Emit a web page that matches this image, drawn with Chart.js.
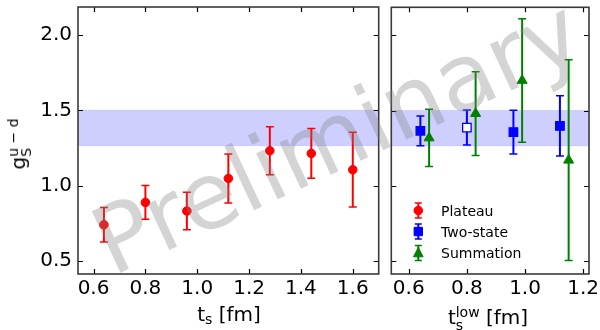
<!DOCTYPE html>
<html>
<head>
<meta charset="utf-8">
<script src="https://cdn.jsdelivr.net/npm/chart.js@4.4.1/dist/chart.umd.min.js"></script>
<style>
html,body{margin:0;padding:0;background:#fff;}
#wrap{position:relative;width:600px;height:330px;overflow:hidden;font-family:"DejaVu Sans",sans-serif;color:#000;}
canvas{position:absolute;top:0;}
#c1{left:0;}
#c2{left:384px;}
.lbl{position:absolute;font-size:20px;line-height:20px;white-space:nowrap;}
.st{position:relative;display:inline-block;font-size:14px;line-height:14px;}
.st .sp{position:relative;top:-7px;}
.st .sb{position:absolute;left:0;top:6px;}
.st .sb1{position:relative;top:3px;}
.leg{position:absolute;left:441px;font-size:14px;line-height:14px;white-space:nowrap;}
#wm{position:absolute;font-size:93px;line-height:93px;white-space:nowrap;color:rgba(128,128,128,0.34);
  left:337px;top:137px;transform:translate(-50%,-50%) rotate(-25deg);pointer-events:none;}
</style>
</head>
<body>
<div id="wrap">
  <canvas id="c1" width="384" height="330"></canvas>
  <canvas id="c2" width="216" height="330"></canvas>
  <div class="lbl" id="xl1" style="left:229px;top:304px;transform:translateX(-50%);">t<span class="st"><span class="sb1">s</span></span> [fm]</div>
  <div class="lbl" id="xl2" style="left:488px;top:307px;transform:translateX(-50%);">t<span class="st"><span class="sp">low</span><span class="sb">s</span></span> [fm]</div>
  <div class="lbl" id="yl" style="left:18px;top:144px;transform:translate(-50%,-50%) rotate(-90deg);">g<span class="st"><span class="sp">u − d</span><span class="sb">S</span></span></div>
  <div class="leg" style="top:204px;">Plateau</div>
  <div class="leg" style="top:225px;">Two-state</div>
  <div class="leg" style="top:246px;">Summation</div>
  <div id="wm">Preliminary</div>
</div>
<script>
// ---------------- data ----------------
const plateauT   = [0.64, 0.80, 0.96, 1.12, 1.28, 1.44, 1.60];
const plateauVal = [0.741, 0.889, 0.832, 1.048, 1.232, 1.214, 1.106];
const plateauErr = [0.114, 0.112, 0.124, 0.163, 0.160, 0.165, 0.248];

const twoStateT   = [0.64, 0.80, 0.96, 1.12];
const twoStateVal = [1.365, 1.387, 1.357, 1.398];
const twoStateErr = [0.099, 0.116, 0.145, 0.200];
const twoStateOpen = [false, true, false, false];

const summationT   = [0.67, 0.83, 0.99, 1.15];
const summationVal = [1.318, 1.480, 1.700, 1.170];
const summationErr = [0.190, 0.278, 0.410, 0.667];

const bandLow = 1.266, bandHigh = 1.500;

const yTicks = [0.5, 1.0, 1.5, 2.0];
const leftXTicks = [0.6, 0.8, 1.0, 1.2, 1.4, 1.6];
const rightXTicks = [0.6, 0.8, 1.0, 1.2];
const legendLabels = ['Plateau', 'Two-state', 'Summation'];

const RED = '#ff0000', BLUE = '#0000ff', GREEN = '#008000';
const FONT = {family: '"DejaVu Sans", sans-serif', size: 20};

function pts(xs, ys) { return xs.map((x, i) => ({x: x, y: ys[i]})); }

function drawMarker(ctx, style, x, y, color, fill) {
  ctx.save();
  ctx.fillStyle = fill; ctx.strokeStyle = color; ctx.lineWidth = 1;
  ctx.beginPath();
  if (style === 'circle') ctx.arc(x, y, 4.3, 0, Math.PI * 2);
  else if (style === 'rect') ctx.rect(x - 4.2, y - 4.2, 8.4, 8.4);
  else { ctx.moveTo(x, y - 5.5); ctx.lineTo(x - 4.8, y + 3.8); ctx.lineTo(x + 4.8, y + 3.8); ctx.closePath(); }
  ctx.fill(); ctx.stroke();
  ctx.restore();
}

function vbar(ctx, x, y1, y2, color, cap) {
  ctx.strokeStyle = color; ctx.lineWidth = 2;
  ctx.beginPath(); ctx.moveTo(x, y1); ctx.lineTo(x, y2); ctx.stroke();
  ctx.lineWidth = 1.5;
  ctx.beginPath();
  ctx.moveTo(x - cap, y1); ctx.lineTo(x + cap, y1);
  ctx.moveTo(x - cap, y2); ctx.lineTo(x + cap, y2);
  ctx.stroke();
}

const decor = {
  id: 'decor',
  beforeDatasetsDraw(chart) {
    const ctx = chart.ctx, a = chart.chartArea, xs = chart.scales.x, ys = chart.scales.y;
    ctx.save();
    // band
    const yt = ys.getPixelForValue(bandHigh), yb = ys.getPixelForValue(bandLow);
    ctx.fillStyle = 'rgba(0,0,255,0.19)';
    ctx.fillRect(a.left, yt, a.right - a.left, yb - yt);
    ctx.strokeStyle = 'rgba(0,0,255,0.12)'; ctx.lineWidth = 1;
    ctx.beginPath(); ctx.moveTo(a.left, yt); ctx.lineTo(a.right, yt);
    ctx.moveTo(a.left, yb); ctx.lineTo(a.right, yb); ctx.stroke();
    // error bars
    chart.data.datasets.forEach(ds => {
      ds.data.forEach((p, i) => {
        const px = xs.getPixelForValue(p.x);
        vbar(ctx, px, ys.getPixelForValue(p.y + ds.err[i]), ys.getPixelForValue(p.y - ds.err[i]), ds.borderColor, 4);
      });
    });
    ctx.restore();
  },
  afterDraw(chart) {
    const ctx = chart.ctx, a = chart.chartArea, xs = chart.scales.x, ys = chart.scales.y;
    const o = chart.options.plugins.decor;
    ctx.save();
    ctx.strokeStyle = '#000'; ctx.lineWidth = 1.2;
    const L = 5;
    ctx.beginPath();
    o.xticks.forEach(v => {
      const px = Math.round(xs.getPixelForValue(v)) + 0.5;
      ctx.moveTo(px, a.bottom); ctx.lineTo(px, a.bottom - L);
      ctx.moveTo(px, a.top); ctx.lineTo(px, a.top + L);
    });
    yTicks.forEach(v => {
      const py = Math.round(ys.getPixelForValue(v)) + 0.5;
      ctx.moveTo(a.left, py); ctx.lineTo(a.left + L, py);
      ctx.moveTo(a.right, py); ctx.lineTo(a.right - L, py);
    });
    ctx.stroke();
    ctx.strokeStyle = '#3a3a3a'; ctx.lineWidth = 1.6;
    ctx.strokeRect(a.left, a.top, a.right - a.left, a.bottom - a.top);
    if (o.legend) {
      const lx = a.left + 27, rows = [210.5, 231.5, 253];
      const sty = [['circle', RED, RED], ['rect', BLUE, BLUE], ['triangle', GREEN, GREEN]];
      rows.forEach((ry, i) => {
        vbar(ctx, lx, ry - 7.5, ry + 7.5, sty[i][1], 3.5);
        drawMarker(ctx, sty[i][0], lx, ry, sty[i][1], sty[i][2]);
      });
    }
    ctx.restore();
  }
};

function yScale(showLabels, width) {
  return {
    type: 'linear', min: 0.414, max: 2.186,
    afterBuildTicks: s => { s.ticks = yTicks.map(v => ({value: v})); },
    afterFit: s => { s.width = width; s.paddingTop = 0; s.paddingBottom = 0; },
    grid: {display: false, drawTicks: false},
    border: {display: false},
    ticks: {display: showLabels, padding: 6, color: '#000', font: FONT, callback: v => v.toFixed(1)}
  };
}
function xScale(min, max, tickArr) {
  return {
    type: 'linear', min: min, max: max,
    afterBuildTicks: s => { s.ticks = tickArr.map(v => ({value: v})); },
    afterFit: s => { s.height = 56; s.paddingLeft = 0; s.paddingRight = 0; },
    grid: {display: false, drawTicks: false},
    border: {display: false},
    ticks: {padding: 3, color: '#000', font: FONT, autoSkip: false, maxRotation: 0, callback: v => v.toFixed(1)}
  };
}

new Chart(document.getElementById('c1'), {
  type: 'scatter',
  data: {datasets: [{
    label: legendLabels[0], data: pts(plateauT, plateauVal), err: plateauErr,
    pointStyle: 'circle', pointRadius: 4.3, borderWidth: 1,
    backgroundColor: RED, borderColor: RED
  }]},
  options: {
    responsive: false, animation: false,
    layout: {padding: {top: 7, right: 3, left: 0, bottom: 0}},
    scales: {x: xScale(0.54, 1.70, leftXTicks), y: yScale(true, 78)},
    plugins: {legend: {display: false}, tooltip: {enabled: false}, decor: {xticks: leftXTicks, legend: false}}
  },
  plugins: [decor]
});

new Chart(document.getElementById('c2'), {
  type: 'scatter',
  data: {datasets: [{
    label: legendLabels[1], data: pts(twoStateT, twoStateVal), err: twoStateErr,
    pointStyle: 'rect', pointRadius: 6, borderWidth: 1.3,
    backgroundColor: twoStateOpen.map(o => o ? '#ffffff' : BLUE), borderColor: BLUE
  }, {
    label: legendLabels[2], data: pts(summationT, summationVal), err: summationErr,
    pointStyle: 'triangle', pointRadius: 5.8, borderWidth: 1,
    backgroundColor: GREEN, borderColor: GREEN
  }]},
  options: {
    responsive: false, animation: false,
    layout: {padding: {top: 7, right: 11, left: 3, bottom: 0}},
    scales: {x: xScale(0.54, 1.22, rightXTicks), y: yScale(false, 0)},
    plugins: {legend: {display: false}, tooltip: {enabled: false}, decor: {xticks: rightXTicks, legend: true}}
  },
  plugins: [decor]
});
</script>
</body>
</html>
